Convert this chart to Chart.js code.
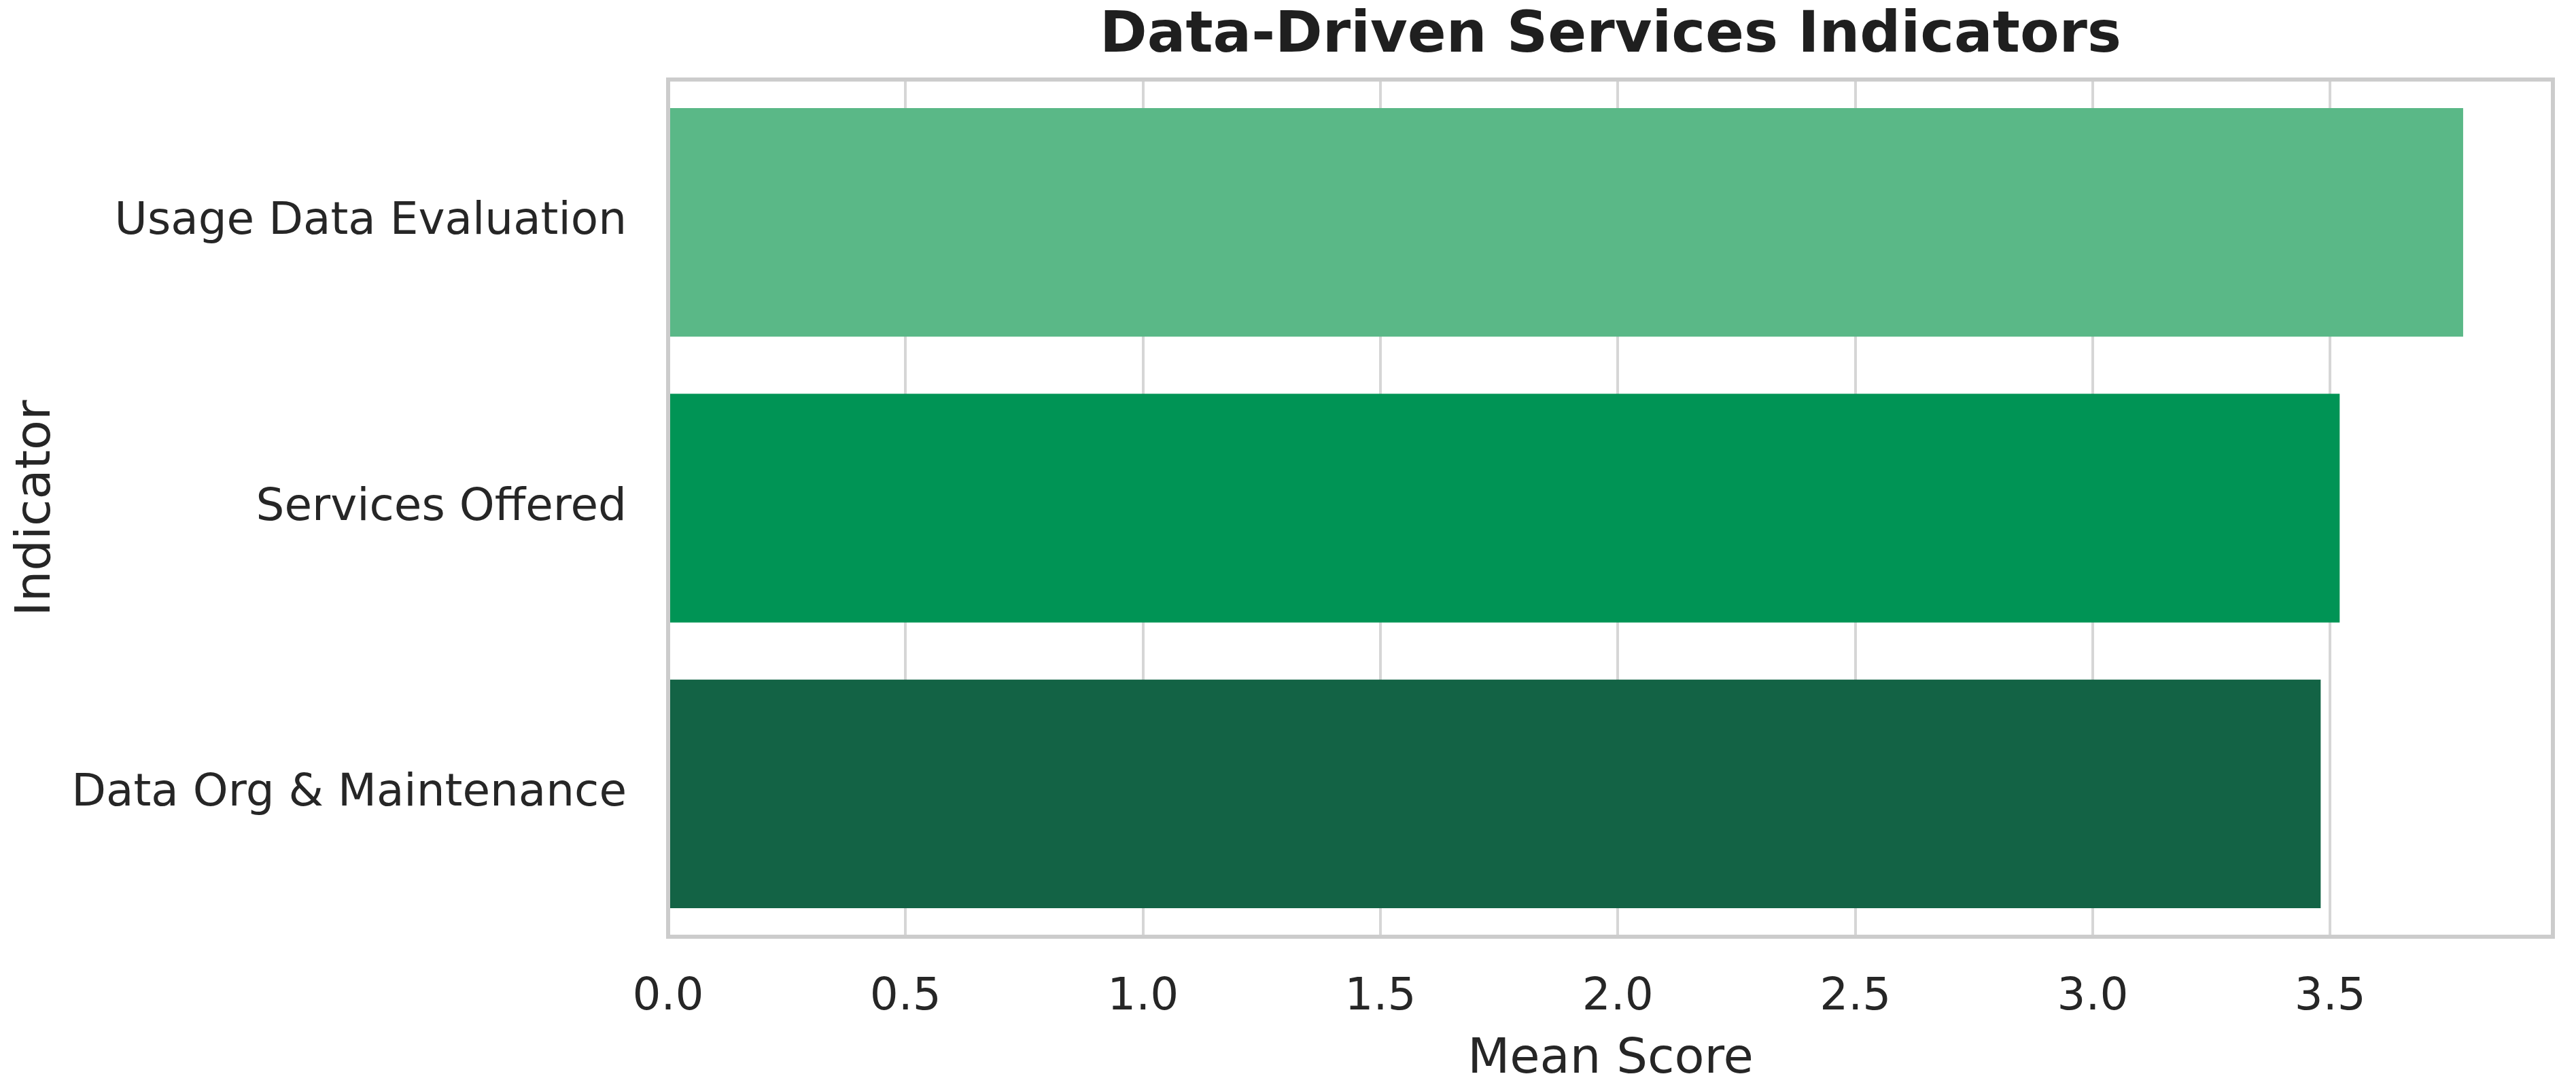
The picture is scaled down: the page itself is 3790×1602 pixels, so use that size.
<!DOCTYPE html>
<html>
<head>
<meta charset="utf-8">
<script src="https://cdn.jsdelivr.net/npm/chart.js@4"></script>
<style>
  html, body { margin: 0; padding: 0; background: #ffffff; }
  #wrap { width: 3790px; height: 1602px; }
</style>
</head>
<body>
<div id="wrap"><canvas id="c" width="3790" height="1602"></canvas></div>
<script>
// ---- data ----
const categories = ["Usage Data Evaluation", "Services Offered", "Data Org & Maintenance"];
const meanScores = [3.78, 3.52, 3.48];
const barColors = ["#5AB887", "#009455", "#136345"];
const xTickStep = 0.5;
const xMax = 3.969;
const chartTitle = "Data-Driven Services Indicators";
const xAxisTitle = "Mean Score";
const yAxisTitle = "Indicator";

const FONT = "'DejaVu Sans', 'Liberation Sans', sans-serif";
const TEXT = "#262626";

const framePlugin = {
  id: 'frame',
  afterDatasetsDraw(chart) {
    const a = chart.chartArea, ctx = chart.ctx;
    ctx.save();
    ctx.strokeStyle = '#cccccc';
    ctx.lineWidth = 6;
    ctx.strokeRect(a.left, a.top, a.right - a.left, a.bottom - a.top);
    ctx.restore();
  }
};

new Chart(document.getElementById('c'), {
  type: 'bar',
  data: {
    labels: categories,
    datasets: [{
      data: meanScores,
      backgroundColor: barColors,
      borderWidth: 0,
      categoryPercentage: 0.8,
      barPercentage: 1.0
    }]
  },
  options: {
    indexAxis: 'y',
    responsive: false,
    animation: false,
    devicePixelRatio: 1,
    layout: { padding: { left: 0, right: 34, top: 0, bottom: 0 } },
    plugins: {
      legend: { display: false },
      tooltip: { enabled: false },
      title: {
        display: true,
        text: chartTitle,
        fullSize: false,
        color: '#1f1f1f',
        font: { family: FONT, size: 84, weight: 'bold' },
        padding: { top: 3.6, bottom: 12.6 }
      }
    },
    scales: {
      x: {
        type: 'linear',
        min: 0,
        max: xMax,
        afterFit(scale) { scale.height = 224; },
        border: { display: false },
        grid: { display: true, color: '#d6d6d6', lineWidth: 4, drawTicks: false },
        ticks: {
          stepSize: xTickStep,
          includeBounds: false,
          color: TEXT,
          padding: 50,
          font: { family: FONT, size: 66 },
          callback: (v) => Number(v).toFixed(1)
        },
        title: {
          display: true,
          text: xAxisTitle,
          color: TEXT,
          font: { family: FONT, size: 72 },
          padding: { top: 0, bottom: 0 }
        }
      },
      y: {
        afterFit(scale) { scale.width = 983; },
        border: { display: false },
        grid: { display: false, drawTicks: false },
        ticks: {
          color: TEXT,
          padding: 61,
          font: { family: FONT, size: 66 }
        },
        title: {
          display: true,
          text: yAxisTitle,
          color: TEXT,
          font: { family: FONT, size: 72 },
          padding: { top: 11, bottom: 0 }
        }
      }
    }
  },
  plugins: [framePlugin]
});
</script>
</body>
</html>
